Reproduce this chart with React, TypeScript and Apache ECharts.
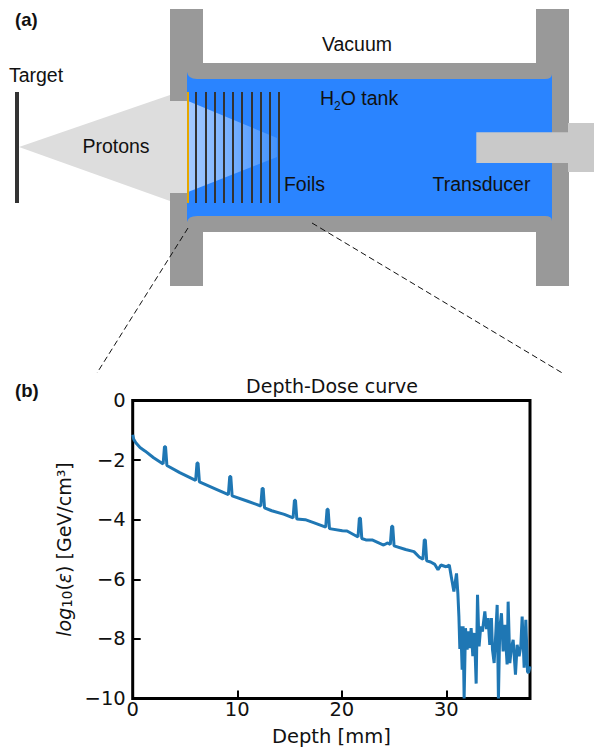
import React, { useEffect, useRef } from "react";
import * as echarts from "echarts";

const depthMm = [
  0, 0.1, 0.3, 0.7, 1.2, 2, 2.91, 3.04, 3.14, 3.27, 4.5, 6.02, 6.15, 6.25, 6.38, 8, 9.15, 9.28, 9.38, 9.51,
  11, 12.25, 12.38, 12.48, 12.61, 13.3, 14.5, 15.34, 15.47, 15.57, 15.7, 16.5, 17.3, 18.46, 18.59, 18.69, 18.82,
  20.05, 20.5, 21.55, 21.68, 21.78, 21.91, 22.3, 22.9, 24, 24.4, 24.64, 24.77, 24.87, 25, 26.1, 26.9,
  27.4, 27.76, 27.89, 27.99, 28.12, 28.5, 28.9, 29.2, 29.48, 29.96, 30.28, 30.5, 30.72, 30.97, 31.1, 31.2, 31.29, 31.38,
  31.51, 31.6, 31.7, 31.83, 31.99, 32.11, 32.24, 32.37, 32.53, 32.69, 32.85, 32.98, 33.13, 33.29, 33.45, 33.68, 33.84,
  33.99, 34.15, 34.31, 34.41, 34.57, 34.73, 34.86, 34.98, 35.11, 35.27, 35.43, 35.59, 35.81, 35.91, 36.07, 36.2, 36.39,
  36.61, 36.77, 36.96, 37.12, 37.25, 37.44, 37.6, 37.76, 37.85, 38,
];
const logDose = [
  -1.15, -1.3, -1.42, -1.58, -1.7, -1.92, -2.13, -1.55, -1.55, -2.18, -2.42, -2.68, -2.1, -2.1, -2.73, -2.98,
  -3.16, -2.55, -2.55, -3.2, -3.38, -3.54, -2.95, -2.95, -3.6, -3.7, -3.82, -3.94, -3.35, -3.35, -3.98,
  -4.0, -4.1, -4.25, -3.65, -3.65, -4.3, -4.37, -4.38, -4.58, -3.95, -3.95, -4.63, -4.68, -4.68, -4.85, -4.78,
  -4.83, -4.22, -4.22, -4.88, -5.0, -5.07, -5.25, -5.33, -4.68, -4.68, -5.38, -5.42, -5.5, -5.68, -5.52, -5.58,
  -5.52, -5.97, -6.41, -5.8, -6.47, -7.25, -8.34, -7.58, -9.03, -7.58, -10, -7.64, -8.36, -7.75, -8.31, -7.64, -8.58, -7.8,
  -9.5, -6.52, -8.25, -7.58, -7.75, -7.08, -7.67, -7.3, -8.2, -7.3, -8.36, -8.81, -7.8, -6.86, -10, -7.64, -7.14,
  -8.42, -7.53, -8.86, -6.75, -8.81, -8.36, -8.03, -9.2, -8.2, -8.58, -8.25, -7.25, -8.97, -7.36, -9.09, -9.14, -8.92,
];
const xInterval = 10;
const yInterval = 2;
const foilCentres = [196, 206, 215, 224, 233, 242, 252, 261, 270, 279];

const SANS = "Liberation Sans";
const MONO = "DejaVu Sans";
const GREY = "#999999";
const INK = "#333333";

echarts.graphic.registerShape(
  "tank",
  echarts.graphic.extendPath(
    "M187 72 Q188 79 197 79 L545 79 Q552 79 552 74 L552 221 Q552 216 545 216 L197 216 Q188 216 187 222 Z",
    {}
  )
);

const label = (text: string, x: number, y: number, extra = {}) => ({
  type: "text",
  x,
  y,
  z: 10,
  style: { text, fontFamily: SANS, fontSize: 19.5, fill: "#111", align: "center", verticalAlign: "middle", ...extra },
});
const rect = (x: number, y: number, width: number, height: number, fill: string, z = 1) => ({
  type: "rect",
  z,
  shape: { x, y, width, height },
  style: { fill },
});
const foil = (x: number, stroke: string, lineWidth = 2) => ({
  type: "line",
  z: 6,
  shape: { x1: x, y1: 92, x2: x, y2: 203 },
  style: { stroke, lineWidth },
});
const dashed = (x1: number, y1: number, x2: number, y2: number) => ({
  type: "line",
  z: 7,
  shape: { x1, y1, x2, y2 },
  style: { stroke: "#111", lineWidth: 1, lineDash: [6, 3.5] },
});

const schematic = [
  { type: "polygon", z: 1, shape: { points: [[19, 147], [170, 95], [170, 201]] }, style: { fill: "#dddddd" } },
  rect(170, 9, 33, 277, GREY, 2),
  rect(536, 9, 33, 277, GREY, 2),
  rect(203, 63, 333, 16, GREY, 2),
  rect(203, 216, 333, 16, GREY, 2),
  rect(170, 101, 17.5, 92, "#dddddd", 3),
  { type: "tank", z: 3, style: { fill: "#2a84ff" } },
  {
    type: "polygon",
    z: 4,
    shape: { points: [[188, 101], [277, 138], [277, 157], [188, 192]] },
    style: {
      fill: new echarts.graphic.LinearGradient(0, 0, 1, 0, [
        { offset: 0, color: "rgba(255,255,255,0.58)" },
        { offset: 1, color: "rgba(255,255,255,0.12)" },
      ]),
    },
  },
  rect(476.3, 132.3, 92, 30.7, "#c9c9c9", 5),
  rect(568, 123, 26, 49, "#c9c9c9", 5),
  foil(17, INK, 4),
  foil(188, "#e6a700", 2),
  ...foilCentres.map((x) => foil(x, INK)),
  dashed(188, 228, 97, 373),
  dashed(312, 223, 564, 374),
  label("(a)", 15, 19, { fontWeight: "bold", align: "left", fontSize: 18.5 }),
  label("(b)", 15, 390, { fontWeight: "bold", align: "left", fontSize: 18.5 }),
  label("Target", 36, 75),
  label("Protons", 116, 146),
  label("Vacuum", 357, 44),
  label("Foils", 304.5, 184),
  label("Transducer", 481.5, 184),
  {
    type: "text",
    x: 320,
    y: 98,
    z: 10,
    style: {
      text: "H{s|2}O tank",
      fontFamily: SANS,
      fontSize: 19.5,
      fill: "#111",
      align: "left",
      verticalAlign: "middle",
      rich: { s: { fontFamily: SANS, fontSize: 12, fill: "#111", verticalAlign: "bottom", padding: [15, 0, 0, 0] } },
    },
  },
];

export default function App() {
  const ref = useRef<HTMLDivElement>(null);
  useEffect(() => {
    const chart = echarts.init(ref.current!, undefined, { renderer: "svg" });
    chart.setOption({
      animation: false,
      backgroundColor: "#ffffff",
      title: {
        text: "Depth-Dose curve",
        left: 327,
        top: 371,
        textAlign: "center",
        textStyle: { fontFamily: MONO, fontSize: 19, fontWeight: "normal", color: "#111" },
      },
      grid: {
        left: 132.7,
        right: 64,
        top: 400.5,
        bottom: 48.5,
        show: true,
        borderColor: "#000",
        borderWidth: 3,
      },
      xAxis: {
        type: "value",
        min: 0,
        max: 38,
        interval: xInterval,
        name: "Depth [mm]",
        nameLocation: "middle",
        nameGap: 27.5,
        nameTextStyle: { fontFamily: MONO, fontSize: 19.5, color: "#111" },
        splitLine: { show: false },
        axisLine: { show: false, onZero: false },
        axisTick: { inside: true, length: 8, lineStyle: { color: "#000", width: 2 } },
        axisLabel: { fontFamily: MONO, fontSize: 19.5, color: "#111", margin: 1, showMaxLabel: false },
      },
      yAxis: {
        type: "value",
        min: -10,
        max: 0,
        interval: yInterval,
        name: "{i|log}{s|10}({i|ε}) [GeV/cm³]",
        nameLocation: "middle",
        nameRotate: 90,
        nameGap: 54,
        nameTextStyle: {
          fontFamily: MONO,
          fontSize: 19,
          color: "#111",
          rich: {
            i: { fontFamily: MONO, fontSize: 19, fontStyle: "italic", color: "#111" },
            s: { fontFamily: MONO, fontSize: 13.5, color: "#111", verticalAlign: "bottom", padding: [6, 0, 0, 0] },
          },
        },
        splitLine: { show: false },
        axisLine: { show: false, onZero: false },
        axisTick: { inside: true, length: 8, lineStyle: { color: "#000", width: 2 } },
        axisLabel: {
          fontFamily: MONO,
          fontSize: 19.5,
          color: "#111",
          margin: 7,
          formatter: (v: number) => String(v).replace("-", "\u2212"),
        },
      },
      series: [
        {
          type: "line",
          data: depthMm.map((d, i) => [d, logDose[i]]),
          showSymbol: false,
          smooth: false,
          clip: true,
          lineStyle: { color: "#1f77b4", width: 3 },
        },
      ],
      graphic: { elements: schematic },
    });
    return () => chart.dispose();
  }, []);
  return <div ref={ref} style={{ position: "fixed", left: 0, top: 0, width: 594, height: 747 }} />;
}
